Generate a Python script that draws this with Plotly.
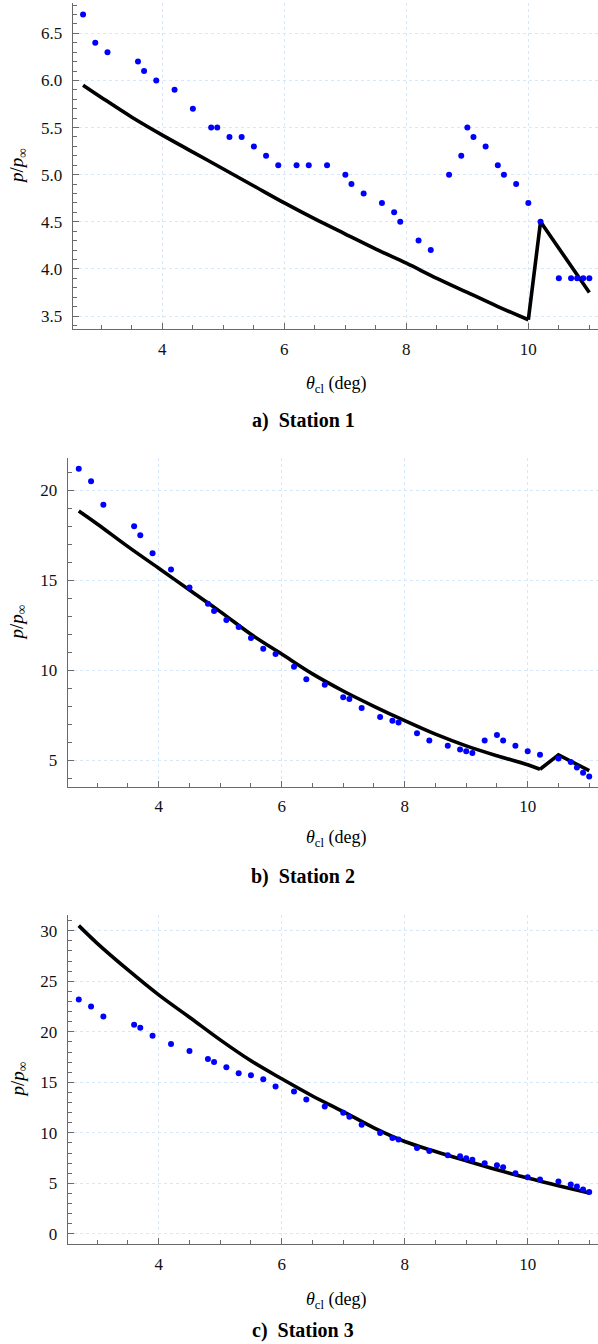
import plotly.graph_objects as go

# ---------------- data ----------------
theta = [2.7, 2.9, 3.1, 3.6, 3.7, 3.9, 4.2, 4.5, 4.8, 4.9, 5.1, 5.3, 5.5, 5.7, 5.9,
         6.2, 6.4, 6.7, 7.0, 7.1, 7.3, 7.6, 7.8, 7.9, 8.2, 8.4, 8.7, 8.9, 9.0, 9.1,
         9.3, 9.5, 9.6, 9.8, 10.0, 10.2, 10.5, 10.7, 10.8, 10.9, 11.0]

exp1 = [6.7, 6.4, 6.3, 6.2, 6.1, 6.0, 5.9, 5.7, 5.5, 5.5, 5.4, 5.4, 5.3, 5.2, 5.1,
        5.1, 5.1, 5.1, 5.0, 4.9, 4.8, 4.7, 4.6, 4.5, 4.3, 4.2, 5.0, 5.2, 5.5, 5.4,
        5.3, 5.1, 5.0, 4.9, 4.7, 4.5, 3.9, 3.9, 3.9, 3.9, 3.9]
exp2 = [21.2, 20.5, 19.2, 18.0, 17.5, 16.5, 15.6, 14.6, 13.7, 13.3, 12.8, 12.4, 11.8, 11.2, 10.9,
        10.2, 9.5, 9.2, 8.5, 8.4, 7.9, 7.4, 7.2, 7.1, 6.5, 6.1, 5.8, 5.6, 5.5, 5.4,
        6.1, 6.4, 6.1, 5.8, 5.5, 5.3, 5.1, 4.9, 4.6, 4.3, 4.1]
exp3 = [23.2, 22.5, 21.5, 20.7, 20.4, 19.6, 18.8, 18.1, 17.3, 17.0, 16.5, 15.9, 15.7, 15.3, 14.6,
        14.1, 13.3, 12.6, 12.0, 11.6, 10.8, 10.0, 9.5, 9.35, 8.5, 8.2, 7.8, 7.7, 7.5, 7.35,
        7.0, 6.8, 6.6, 6.0, 5.6, 5.4, 5.2, 4.9, 4.7, 4.4, 4.15]

# theory curves: smooth part + piecewise-linear tail (kink)
line1_x = [2.7, 3.0, 3.5, 4.0, 4.5, 5.0, 5.5, 6.0, 6.5, 7.0, 7.5, 8.0, 8.5, 9.0, 9.5, 10.0]
line1_y = [5.95, 5.82, 5.61, 5.42, 5.24, 5.06, 4.88, 4.70, 4.53, 4.37, 4.21, 4.06, 3.90, 3.75, 3.60, 3.46]
tail1_x = [10.0, 10.2, 11.0]
tail1_y = [3.46, 4.50, 3.75]

line2_x = [2.7, 3.0, 3.5, 4.0, 4.5, 5.0, 5.5, 6.0, 6.5, 7.0, 7.5, 8.0, 8.5, 9.0, 9.5, 10.0, 10.2]
line2_y = [18.85, 18.13, 16.87, 15.67, 14.46, 13.26, 12.0, 10.9, 9.8, 8.85, 8.0, 7.2, 6.45, 5.8, 5.25, 4.75, 4.5]
tail2_x = [10.2, 10.5, 11.0]
tail2_y = [4.5, 5.3, 4.42]

line3_x = [2.7, 3.0, 3.5, 4.0, 4.5, 5.0, 5.5, 6.0, 6.5, 7.0, 7.5, 8.0, 8.5, 9.0, 9.5, 10.0, 10.5, 11.0]
line3_y = [30.5, 28.75, 26.12, 23.65, 21.44, 19.2, 17.13, 15.35, 13.65, 12.11, 10.5, 9.15, 8.16, 7.24, 6.35, 5.53, 4.77, 4.05]
tail3_x = []
tail3_y = []

captions = ["a)  Station 1", "b)  Station 2", "c)  Station 3"]
x_title = "<i>θ</i><sub>cl</sub> (deg)"
y_title = "<i>p</i>/<i>p</i><sub>∞</sub>"

# ---------------- layout geometry (pixels) ----------------
W, H = 598, 1344
FONT = "'Liberation Serif', 'DejaVu Serif', serif"

panels = [
    dict(left=72.7, top=3, bottom=329, xr=[2.53, 11.142], yr=[3.362, 6.822], ydt=0.5, ymin=0.1,
         ex=exp1, lx=line1_x, ly=line1_y, tx=tail1_x, ty=tail1_y, tcy=385, ccy=420),
    dict(left=67.7, top=458.3, bottom=786.7, xr=[2.52, 11.143], yr=[3.53, 21.78], ydt=5, ymin=1,
         ex=exp2, lx=line2_x, ly=line2_y, tx=tail2_x, ty=tail2_y, tcy=839, ccy=876),
    dict(left=67.7, top=915, bottom=1244, xr=[2.52, 11.143], yr=[-0.99, 31.55], ydt=5, ymin=1,
         ex=exp3, lx=line3_x, ly=line3_y, tx=tail3_x, ty=tail3_y, tcy=1300, ccy=1330),
]

fig = go.Figure()
annotations = []
axcol = "#6a6a6a"
gridcol = "#d6e8fa"
tickfont = dict(family=FONT, size=17, color="#111111")

for i, p in enumerate(panels):
    n = "" if i == 0 else str(i + 1)
    xa, ya = "x" + n, "y" + n
    fig.add_trace(go.Scatter(x=p["lx"], y=p["ly"], mode="lines",
                             line=dict(color="black", width=3.6, shape="spline", smoothing=1.0),
                             xaxis=xa, yaxis=ya, showlegend=False, hoverinfo="skip"))
    if p["tx"]:
        fig.add_trace(go.Scatter(x=p["tx"], y=p["ty"], mode="lines",
                                 line=dict(color="black", width=3.6),
                                 xaxis=xa, yaxis=ya, showlegend=False, hoverinfo="skip"))
    fig.add_trace(go.Scatter(x=theta, y=p["ex"], mode="markers",
                             marker=dict(color="#0000ff", size=6, line=dict(width=0)),
                             xaxis=xa, yaxis=ya, showlegend=False))
    xdom = [p["left"] / W, 1.0]
    ydom = [1 - p["bottom"] / H, 1 - p["top"] / H]
    xaxis = go.layout.XAxis(domain=xdom, range=p["xr"], anchor=ya,
                            showline=True, linecolor=axcol, linewidth=1.2,
                            ticks="inside", tickcolor=axcol, ticklen=6, tickwidth=1,
                            showgrid=True, gridcolor=gridcol, griddash="dot", gridwidth=1,
                            zeroline=False, tickfont=tickfont,
                            tick0=0, dtick=2, ticklabelstandoff=4,
                            minor=dict(ticks="inside", ticklen=4, dtick=0.5, tick0=0,
                                       tickcolor=axcol, showgrid=False))
    yaxis = go.layout.YAxis(domain=ydom, range=p["yr"], anchor=xa,
                            showline=True, linecolor=axcol, linewidth=1.2,
                            ticks="inside", tickcolor=axcol, ticklen=6, tickwidth=1,
                            showgrid=True, gridcolor=gridcol, griddash="dot", gridwidth=1,
                            zeroline=False, tickfont=tickfont,
                            tick0=0, dtick=p["ydt"], ticklabelstandoff=6,
                            tickformat=".1f" if i == 0 else "d",
                            minor=dict(ticks="inside", ticklen=4, dtick=p["ymin"], tick0=0,
                                       tickcolor=axcol, showgrid=False))
    fig.update_layout({"xaxis" + n: xaxis, "yaxis" + n: yaxis})
    annotations.append(dict(text=x_title, x=336 / W, y=1 - p["tcy"] / H, xref="paper", yref="paper",
                            showarrow=False, xanchor="center", yanchor="middle",
                            font=dict(family=FONT, size=18, color="black")))
    annotations.append(dict(text="<b>" + captions[i] + "</b>", x=303 / W, y=1 - p["ccy"] / H,
                            xref="paper", yref="paper", showarrow=False,
                            xanchor="center", yanchor="middle",
                            font=dict(family=FONT, size=20, color="black")))
    annotations.append(dict(text=y_title, x=18 / W, y=1 - (p["top"] + p["bottom"]) / 2 / H,
                            xref="paper", yref="paper", showarrow=False, textangle=-90,
                            xanchor="center", yanchor="middle",
                            font=dict(family=FONT, size=19, color="black")))

fig.update_layout(width=W, height=H, margin=dict(l=0, r=0, t=0, b=0),
                  paper_bgcolor="white", plot_bgcolor="white",
                  font=dict(family=FONT, size=17),
                  annotations=annotations)

fig.write_html("out.html",
               config={"displayModeBar": False},
               post_script="document.body.style.margin='0px';document.body.style.padding='0px';")
